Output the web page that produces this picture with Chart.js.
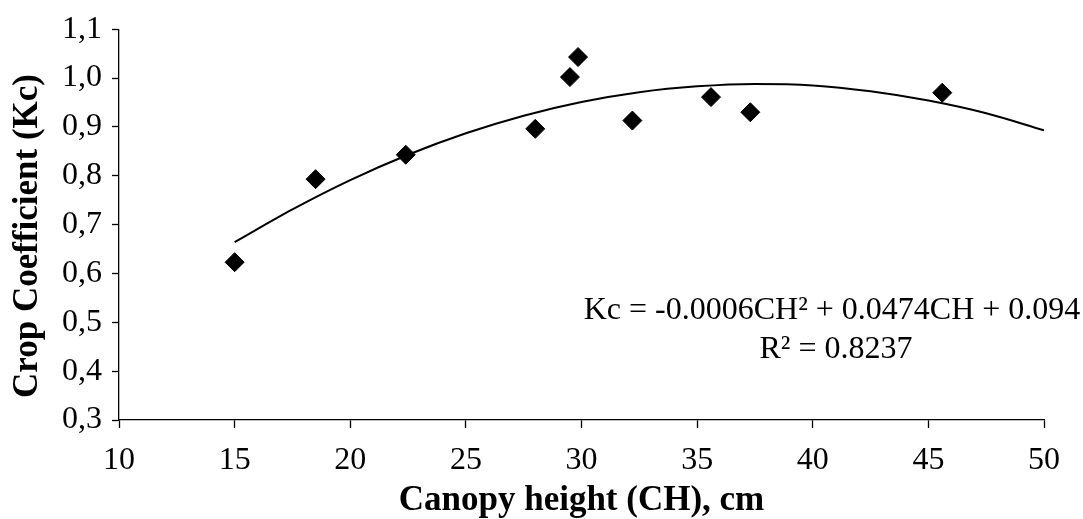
<!DOCTYPE html>
<html>
<head>
<meta charset="utf-8">
<script src="https://cdn.jsdelivr.net/npm/chart.js@4"></script>
<style>
  body { margin: 0; background: #fff; }
</style>
</head>
<body>
<canvas id="chart" width="1083" height="519"></canvas>
<script>
// Measured points: canopy height (cm) vs crop coefficient
const heightCm = [15.0, 18.5, 22.4, 28.0, 29.5, 29.85, 32.2, 35.6, 37.3, 45.6];
const kcValues = [0.623, 0.793, 0.843, 0.896, 1.002, 1.043, 0.913, 0.961, 0.930, 0.970];

// Polynomial trend line
const trendHeight = [15, 17.5, 20, 22.5, 25, 27.5, 30, 32.5, 35, 37.5, 40, 42.5, 45, 47.5, 50];
const trendKc = [0.664, 0.731, 0.791, 0.843, 0.887, 0.923, 0.951, 0.971, 0.983, 0.988, 0.985, 0.973, 0.954, 0.928, 0.893];

const equationText = 'Kc = -0.0006CH\u00B2 + 0.0474CH + 0.094';
const r2Text = 'R\u00B2 = 0.8237';
const yTitle = 'Crop Coefficient (Kc)';

const serif = '"Liberation Serif", "Times New Roman", serif';

// Draws the trend line equation and the y axis title
const textLabels = {
    id: 'textLabels',
    afterDraw(chart) {
        const ctx = chart.ctx;
        ctx.save();
        ctx.fillStyle = '#000';
        ctx.font = '32px ' + serif;
        ctx.textAlign = 'center';
        ctx.textBaseline = 'alphabetic';
        ctx.fillText(equationText, 832, 319);
        ctx.fillText(r2Text, 836, 358);

        ctx.translate(28, 236);
        ctx.rotate(-Math.PI / 2);
        ctx.font = 'bold 35px ' + serif;
        ctx.textBaseline = 'middle';
        ctx.fillText(yTitle, 0, 0);
        ctx.restore();
    }
};

const trendPoints = trendHeight.map((x, i) => ({ x: x, y: trendKc[i] }));
const measuredPoints = heightCm.map((x, i) => ({ x: x, y: kcValues[i] }));

new Chart(document.getElementById('chart'), {
    type: 'scatter',
    data: {
        datasets: [
            {
                label: 'Measured',
                data: measuredPoints,
                pointStyle: 'rectRot',
                pointRadius: 9.5,
                backgroundColor: '#000',
                borderColor: '#000',
                borderWidth: 1,
                order: 1
            },
            {
                label: 'Trend',
                type: 'line',
                data: trendPoints,
                borderColor: '#000',
                borderWidth: 2,
                pointRadius: 0,
                fill: false,
                cubicInterpolationMode: 'monotone',
                order: 2
            }
        ]
    },
    options: {
        responsive: false,
        animation: false,
        devicePixelRatio: 1,
        layout: { padding: { top: 24, right: 39, left: 0, bottom: 0 } },
        plugins: {
            legend: { display: false },
            tooltip: { enabled: false }
        },
        scales: {
            x: {
                type: 'linear',
                min: 10,
                max: 50,
                afterFit: scale => { scale.height = 99; },
                ticks: {
                    stepSize: 5,
                    color: '#000',
                    padding: 13,
                    font: { family: serif, size: 32 }
                },
                grid: { display: true, drawOnChartArea: false, drawTicks: true, tickLength: 8, color: '#000', tickWidth: 1.3 },
                border: { display: true, color: '#000', width: 1.3 },
                title: {
                    display: true,
                    text: 'Canopy height (CH), cm',
                    color: '#000',
                    padding: { top: 0, bottom: 1 },
                    font: { family: serif, size: 35, weight: 'bold', lineHeight: 1 }
                }
            },
            y: {
                min: 0.3,
                max: 1.1,
                afterFit: scale => { scale.width = 119; },
                ticks: {
                    stepSize: 0.1,
                    color: '#000',
                    padding: 10,
                    font: { family: serif, size: 32 },
                    callback: v => v.toFixed(1).replace('.', ',')
                },
                grid: { display: true, drawOnChartArea: false, drawTicks: true, tickLength: 7, color: '#000', tickWidth: 1.3 },
                border: { display: true, color: '#000', width: 1.3 }
            }
        }
    },
    plugins: [textLabels]
});
</script>
</body>
</html>
